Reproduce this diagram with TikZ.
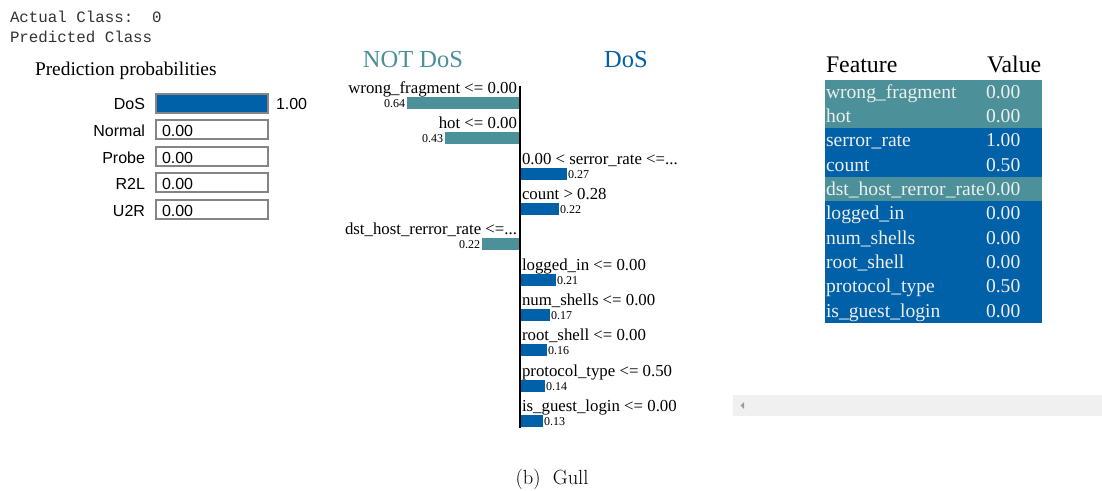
\documentclass[tikz,border=0pt]{standalone}
\usepackage{fontspec}
\newfontfamily\tnr{Liberation Serif}
\newfontfamily\arl{Liberation Sans}
\newfontfamily\mno{Liberation Mono}
\definecolor{tealc}{HTML}{4C9199}
\definecolor{bluec}{HTML}{0060A8}
\definecolor{boxgray}{HTML}{858585}
\definecolor{tabtext}{HTML}{EEEEEE}
\definecolor{scroll}{HTML}{F0F0F0}
\begin{document}
\begin{tikzpicture}[x=1pt,y=-1pt,
  every node/.style={inner sep=0pt, outer sep=0pt},
  monotxt/.style={font=\mno\fontsize{15.8}{18}\selectfont, anchor=base west, text=black!80},
  titletxt/.style={font=\tnr\fontsize{19.4}{22}\selectfont, anchor=base west},
  problab/.style={font=\arl\fontsize{16}{19}\selectfont, anchor=base east},
  probval/.style={font=\arl\fontsize{16}{19}\selectfont, anchor=base west},
  probbox/.style={draw=boxgray, line width=2pt},
  headtxt/.style={font=\tnr\fontsize{24.5}{28}\selectfont, anchor=base},
  featlab/.style={font=\tnr\fontsize{16.8}{19}\selectfont},
  smallval/.style={font=\tnr\fontsize{12}{13}\selectfont},
  tabhead/.style={font=\tnr\fontsize{23.8}{26}\selectfont, anchor=base west},
  tabtxt/.style={font=\tnr\fontsize{19.6}{22}\selectfont, anchor=base west, text=tabtext}
]
\useasboundingbox[fill=white] (0,0) rectangle (1102,490);

% top-left mono text
\node[monotxt] (actual) at (10,22.5) {Actual Class:\ \ 0};
\node[monotxt] (pred) at (10,42.5) {Predicted Class};

% prediction probabilities
\node[titletxt] (ptitle) at (35,75) {Prediction probabilities};
\fill[bluec] (156,94) rectangle (268,113);
\draw[probbox] (156,94) rectangle (268,113);
\node[problab] (ldos) at (145,109) {DoS};
\node[probval] (vdos) at (276,109) {1.00};
\foreach \y/\lab/\nm in {120/Normal/norm, 147/Probe/probe, 173/R2L/rtl, 200/U2R/utr}{
  \draw[probbox] (156,\y) rectangle (268,\y+19);
  \node[problab] (l\nm) at (145,\y+16) {\lab};
  \node[probval] (v\nm) at (162,\y+16) {0.00};
}

% explanation chart headings
\node[headtxt, text=tealc] (notdos) at (413,67) {NOT DoS};
\node[headtxt, text=bluec] (dos) at (626,67) {DoS};

% left (teal) rows
\foreach \b/\xl/\v/\lab/\nm in {93/407/0.64/{wrong\_fragment <= 0.00}/r1,
                               128/445/0.43/{hot <= 0.00}/r2,
                               234/482/0.22/{dst\_host\_rerror\_rate <=...}/r5}{
  \node[featlab, anchor=base east] (\nm) at (517,\b) {\lab};
  \fill[tealc] (\xl,\b+4) rectangle (519,\b+16);
  \node[smallval, anchor=base east] (\nm v) at (\xl-2,\b+14.5) {\v};
}
% right (blue) rows
\foreach \b/\xr/\v/\lab/\nm in {164/567/0.27/{0.00 < serror\_rate <=...}/r3,
                               199/559/0.22/{count > 0.28}/r4,
                               270/556/0.21/{logged\_in <= 0.00}/r6,
                               305/550/0.17/{num\_shells <= 0.00}/r7,
                               340/547/0.16/{root\_shell <= 0.00}/r8,
                               376/545/0.14/{protocol\_type <= 0.50}/r9,
                               411/543/0.13/{is\_guest\_login <= 0.00}/r10}{
  \node[featlab, anchor=base west] (\nm) at (522,\b) {\lab};
  \fill[bluec] (521,\b+4) rectangle (\xr,\b+16);
  \node[smallval, anchor=base west] (\nm v) at (\xr+1,\b+14) {\v};
}
\coordinate (axtop) at (520,86);
\coordinate (axbot) at (520,428);
\draw[line width=2pt] (axtop) -- (axbot);

% feature table
\node[tabhead] (thf) at (826,72) {Feature};
\node[tabhead] (thv) at (987,72) {Value};
\foreach \i/\col/\f/\v in {0/tealc/{wrong\_fragment}/0.00,
                          1/tealc/hot/0.00,
                          2/bluec/{serror\_rate}/1.00,
                          3/bluec/count/0.50,
                          4/tealc/{dst\_host\_rerror\_rate}/0.00,
                          5/bluec/{logged\_in}/0.00,
                          6/bluec/{num\_shells}/0.00,
                          7/bluec/{root\_shell}/0.00,
                          8/bluec/{protocol\_type}/0.50,
                          9/bluec/{is\_guest\_login}/0.00}{
  \fill[\col] (825,79.5+24.35*\i) rectangle (1042,79.5+24.35*\i+24.4);
  \node[tabtxt] (tf\i) at (826,79.5+24.35*\i+18.5) {\f};
  \node[tabtxt] (tv\i) at (986,79.5+24.35*\i+18.5) {\v};
}

% scrollbar
\fill[scroll] (733,395) rectangle (1102,416);
\fill[black!40] (740.5,405.5) -- (744,402) -- (744,409) -- cycle;

% caption
\node[font=\fontsize{20.5}{24}\selectfont, anchor=base] (cap) at (552,484) {(b)\ \ Gull};
\end{tikzpicture}
\end{document}
